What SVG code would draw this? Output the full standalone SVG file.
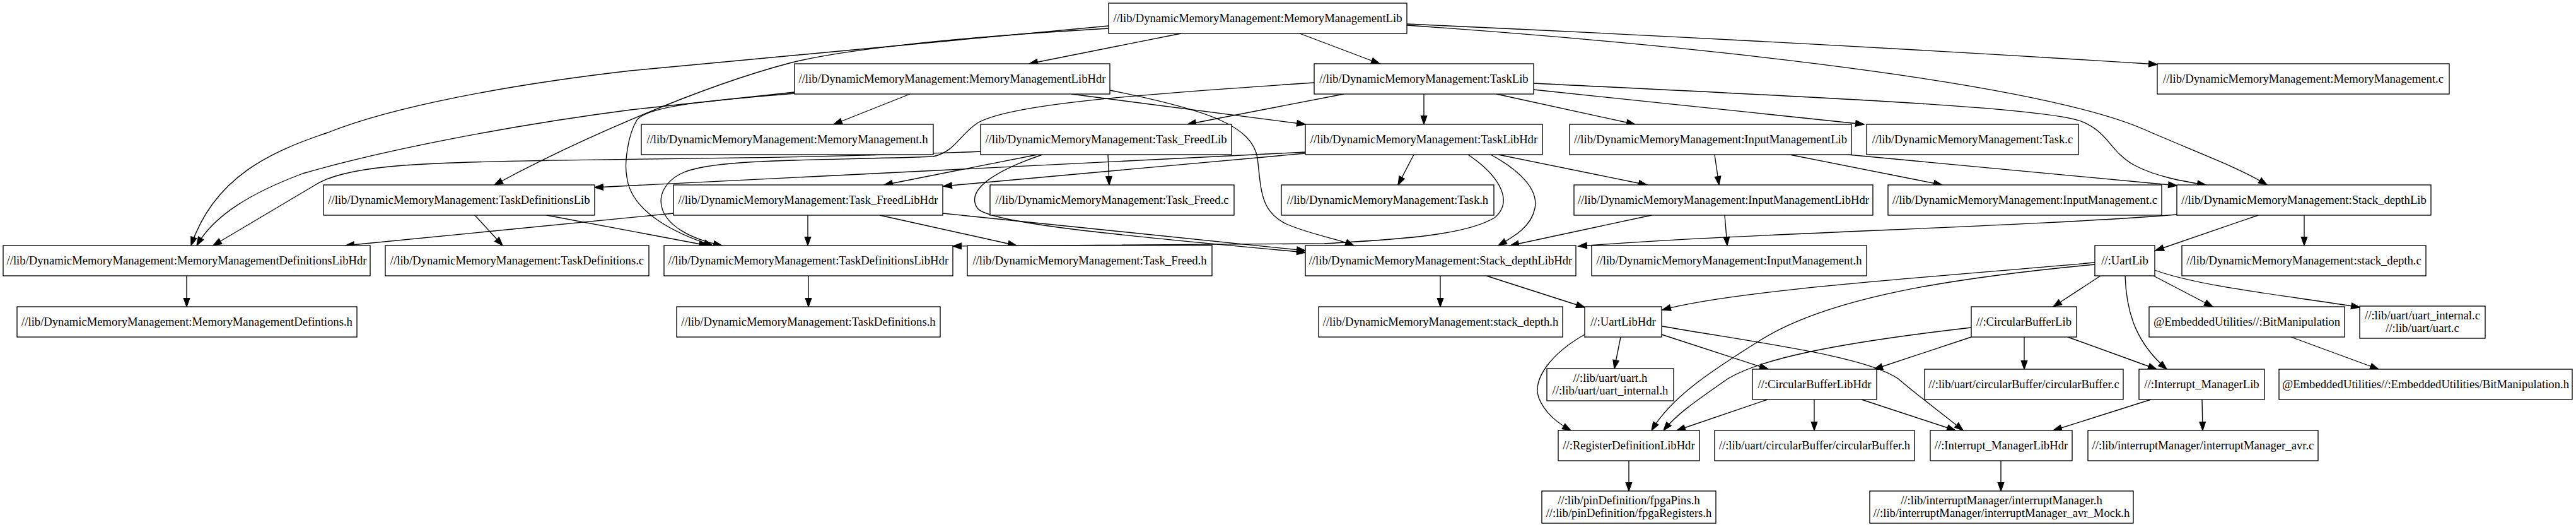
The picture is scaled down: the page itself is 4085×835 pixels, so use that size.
<svg xmlns="http://www.w3.org/2000/svg" width="4085" height="835" viewBox="0 0 4085 835">
<style>
.node rect{fill:#fff;stroke:#000;stroke-width:1.33}
.node text{font-family:"Liberation Serif","Times New Roman",serif;font-size:18.67px;text-anchor:middle;fill:#000}
.edges path{fill:none;stroke:#000;stroke-width:1.33;marker-end:url(#ah)}
</style>
<defs>
<marker id="ah" markerUnits="userSpaceOnUse" markerWidth="14" markerHeight="10" refX="13.3" refY="4.67" orient="auto" overflow="visible"><path d="M0,0 L13.3,4.67 L0,9.33 z" fill="#000" stroke="#000" stroke-width="1.33"/></marker>
</defs>
<rect x="0" y="0" width="4085" height="835" fill="#fff"/>
<g id="edges" class="edges">
<path d="M1873,53 L1632,101"/>
<path d="M2061,53 L2188,101"/>
<path d="M2231,38 C2700,59 3150,85 3421,102"/>
<path d="M2231,40 C2800,80 3250,140 3400,205 C3480,240 3550,265 3595,293"/>
<path d="M1758,45 C1500,60 1330,80 1252,100 C1100,140 900,230 784,293"/>
<path d="M1758,41 L1000,112 C800,135 620,170 520,210 C430,240 340,280 303,389"/>
<path d="M1260,146 L1000,174 C800,200 600,240 480,275 C400,305 340,340 312,389"/>
<path d="M1443,149 L1322,197"/>
<path d="M1260,148 C1150,158 1030,165 1010,190 C995,215 990,260 994,280 C1000,335 1070,370 1130,389"/>
<path d="M1699,149 L2070,197"/>
<path d="M1760,143 C1920,175 1985,200 1994,250 C2000,300 1998,335 2040,355 C2080,372 2120,378 2147,389"/>
<path d="M2131,149 L1883,197"/>
<path d="M2084,131 C1800,150 1600,165 1550,195 C1520,215 1515,240 1480,248 C1300,255 1130,250 1080,275 C1030,300 1030,365 1145,389"/>
<path d="M2258,149 L2258,197"/>
<path d="M2373,149 L2593,197"/>
<path d="M2432,142 L2956,197"/>
<path d="M2432,132 C2900,155 3240,170 3300,192 C3345,210 3345,240 3385,262 C3420,280 3460,287 3498,293"/>
<path d="M1645,245 L1402,293"/>
<path d="M1757,245 L1759,293"/>
<path d="M1555,240 C1200,255 800,250 640,262 C560,268 520,280 500,293 L338,389"/>
<path d="M1653,245 C1580,270 1530,300 1550,330 C1570,355 1800,375 2070,400"/>
<path d="M2070,243 L1496,295"/>
<path d="M2070,241 L943,297"/>
<path d="M2242,245 L2217,293"/>
<path d="M2376,245 L2612,293"/>
<path d="M2364,245 C2410,270 2440,300 2434,330 C2428,360 2400,375 2376,389"/>
<path d="M2328,245 C2380,280 2400,320 2370,345 C2320,375 2200,380 2100,386 L1511,390"/>
<path d="M753,341 L797,389"/>
<path d="M867,341 L1122,389"/>
<path d="M296,437 L296,486"/>
<path d="M1282,437 L1282,486"/>
<path d="M1281,341 L1281,389"/>
<path d="M1395,341 L1612,389"/>
<path d="M1068,338 L548,389"/>
<path d="M1495,338 L2070,397"/>
<path d="M3452,340 C3200,360 2800,368 2503,390"/>
<path d="M2619,341 L2395,389"/>
<path d="M2719,245 L2726,293"/>
<path d="M2838,245 L3080,293"/>
<path d="M2930,245 L3452,294"/>
<path d="M2735,341 L2739,389"/>
<path d="M3654,341 L3654,389"/>
<path d="M3581,341 L3418,397"/>
<path d="M2284,437 L2284,486"/>
<path d="M2357,437 L2513,487"/>
<path d="M3322,416 C3050,440 2750,460 2636,491"/>
<path d="M3322,419 C3100,440 2900,470 2790,540 C2710,590 2650,630 2619,682"/>
<path d="M3331,437 L3256,486"/>
<path d="M3370,437 C3372,500 3390,545 3436,585"/>
<path d="M3415,437 L3509,486"/>
<path d="M3417,428 C3490,455 3640,470 3742,487"/>
<path d="M2513,530 C2460,560 2430,600 2440,630 C2450,655 2470,670 2491,682"/>
<path d="M2570,534 L2560,584"/>
<path d="M2635,530 L2804,585"/>
<path d="M2636,517 C2800,545 2960,565 3010,600 C3045,630 3080,655 3113,682"/>
<path d="M3126,519 C2900,545 2790,570 2740,600 C2690,635 2660,655 2638,682"/>
<path d="M3126,534 L2972,585"/>
<path d="M3210,534 L3210,585"/>
<path d="M3279,534 L3420,585"/>
<path d="M2803,633 L2659,682"/>
<path d="M2877,633 L2877,682"/>
<path d="M2952,633 L3101,682"/>
<path d="M3411,633 L3256,682"/>
<path d="M3492,633 L3493,682"/>
<path d="M3173,730 L3173,778"/>
<path d="M2583,730 L2583,778"/>
<path d="M3633,534 L3772,585"/>
</g>
<g id="n01" class="node"><rect x="1758" y="5" width="473" height="48"/><text x="1994.5" y="35">//lib/DynamicMemoryManagement:MemoryManagementLib</text></g>
<g id="n02" class="node"><rect x="1260" y="101" width="500" height="48"/><text x="1510" y="131">//lib/DynamicMemoryManagement:MemoryManagementLibHdr</text></g>
<g id="n03" class="node"><rect x="2084" y="101" width="348" height="48"/><text x="2258" y="131">//lib/DynamicMemoryManagement:TaskLib</text></g>
<g id="n04" class="node"><rect x="3421" y="101" width="463" height="48"/><text x="3652.5" y="131">//lib/DynamicMemoryManagement:MemoryManagement.c</text></g>
<g id="n05" class="node"><rect x="1017" y="197" width="463" height="48"/><text x="1248.5" y="227">//lib/DynamicMemoryManagement:MemoryManagement.h</text></g>
<g id="n06" class="node"><rect x="1555" y="197" width="398" height="48"/><text x="1754" y="227">//lib/DynamicMemoryManagement:Task_FreedLib</text></g>
<g id="n07" class="node"><rect x="2070" y="197" width="376" height="48"/><text x="2258" y="227">//lib/DynamicMemoryManagement:TaskLibHdr</text></g>
<g id="n08" class="node"><rect x="2489" y="197" width="447" height="48"/><text x="2712.5" y="227">//lib/DynamicMemoryManagement:InputManagementLib</text></g>
<g id="n09" class="node"><rect x="2960" y="197" width="336" height="48"/><text x="3128" y="227">//lib/DynamicMemoryManagement:Task.c</text></g>
<g id="n10" class="node"><rect x="513" y="293" width="430" height="48"/><text x="728" y="323">//lib/DynamicMemoryManagement:TaskDefinitionsLib</text></g>
<g id="n11" class="node"><rect x="1068" y="293" width="427" height="48"/><text x="1281.5" y="323">//lib/DynamicMemoryManagement:Task_FreedLibHdr</text></g>
<g id="n12" class="node"><rect x="1570" y="293" width="387" height="48"/><text x="1763.5" y="323">//lib/DynamicMemoryManagement:Task_Freed.c</text></g>
<g id="n13" class="node"><rect x="2032" y="293" width="337" height="48"/><text x="2200.5" y="323">//lib/DynamicMemoryManagement:Task.h</text></g>
<g id="n14" class="node"><rect x="2496" y="293" width="474" height="48"/><text x="2733" y="323">//lib/DynamicMemoryManagement:InputManagementLibHdr</text></g>
<g id="n15" class="node"><rect x="2994" y="293" width="434" height="48"/><text x="3211" y="323">//lib/DynamicMemoryManagement:InputManagement.c</text></g>
<g id="n16" class="node"><rect x="3452" y="293" width="403" height="48"/><text x="3653.5" y="323">//lib/DynamicMemoryManagement:Stack_depthLib</text></g>
<g id="n17" class="node"><rect x="5" y="389" width="582" height="48"/><text x="296" y="419">//lib/DynamicMemoryManagement:MemoryManagementDefinitionsLibHdr</text></g>
<g id="n18" class="node"><rect x="611" y="389" width="418" height="48"/><text x="820" y="419">//lib/DynamicMemoryManagement:TaskDefinitions.c</text></g>
<g id="n19" class="node"><rect x="1053" y="389" width="458" height="48"/><text x="1282" y="419">//lib/DynamicMemoryManagement:TaskDefinitionsLibHdr</text></g>
<g id="n20" class="node"><rect x="1534" y="389" width="388" height="48"/><text x="1728" y="419">//lib/DynamicMemoryManagement:Task_Freed.h</text></g>
<g id="n21" class="node"><rect x="2070" y="389" width="429" height="48"/><text x="2284.5" y="419">//lib/DynamicMemoryManagement:Stack_depthLibHdr</text></g>
<g id="n22" class="node"><rect x="2524" y="389" width="436" height="48"/><text x="2742" y="419">//lib/DynamicMemoryManagement:InputManagement.h</text></g>
<g id="n23" class="node"><rect x="3322" y="389" width="95" height="48"/><text x="3369.5" y="419">//:UartLib</text></g>
<g id="n24" class="node"><rect x="3460" y="389" width="387" height="48"/><text x="3653.5" y="419">//lib/DynamicMemoryManagement:stack_depth.c</text></g>
<g id="n25" class="node"><rect x="27" y="486" width="539" height="48"/><text x="296.5" y="516">//lib/DynamicMemoryManagement:MemoryManagementDefintions.h</text></g>
<g id="n26" class="node"><rect x="1073" y="486" width="418" height="48"/><text x="1282" y="516">//lib/DynamicMemoryManagement:TaskDefinitions.h</text></g>
<g id="n27" class="node"><rect x="2091" y="486" width="387" height="48"/><text x="2284.5" y="516">//lib/DynamicMemoryManagement:stack_depth.h</text></g>
<g id="n28" class="node"><rect x="2513" y="486" width="122" height="48"/><text x="2574" y="516">//:UartLibHdr</text></g>
<g id="n29" class="node"><rect x="3126" y="486" width="167" height="48"/><text x="3209.5" y="516">//:CircularBufferLib</text></g>
<g id="n30" class="node"><rect x="3408" y="486" width="310" height="48"/><text x="3563" y="516">@EmbeddedUtilities//:BitManipulation</text></g>
<g id="n31" class="node"><rect x="3742" y="485" width="199" height="51"/><text x="3841.5" y="506">//:lib/uart/uart_internal.c</text><text x="3841.5" y="526">//:lib/uart/uart.c</text></g>
<g id="n32" class="node"><rect x="2453" y="584" width="201" height="51"/><text x="2553.5" y="605">//:lib/uart/uart.h</text><text x="2553.5" y="625">//:lib/uart/uart_internal.h</text></g>
<g id="n33" class="node"><rect x="2779" y="585" width="197" height="48"/><text x="2877.5" y="615">//:CircularBufferLibHdr</text></g>
<g id="n34" class="node"><rect x="3052" y="585" width="315" height="48"/><text x="3209.5" y="615">//:lib/uart/circularBuffer/circularBuffer.c</text></g>
<g id="n35" class="node"><rect x="3392" y="585" width="199" height="48"/><text x="3491.5" y="615">//:Interrupt_ManagerLib</text></g>
<g id="n36" class="node"><rect x="3614" y="585" width="465" height="48"/><text x="3846.5" y="615">@EmbeddedUtilities//:EmbeddedUtilities/BitManipulation.h</text></g>
<g id="n37" class="node"><rect x="2471" y="682" width="224" height="48"/><text x="2583" y="712">//:RegisterDefinitionLibHdr</text></g>
<g id="n38" class="node"><rect x="2719" y="682" width="317" height="48"/><text x="2877.5" y="712">//:lib/uart/circularBuffer/circularBuffer.h</text></g>
<g id="n39" class="node"><rect x="3061" y="682" width="225" height="48"/><text x="3173.5" y="712">//:Interrupt_ManagerLibHdr</text></g>
<g id="n40" class="node"><rect x="3311" y="682" width="365" height="48"/><text x="3493.5" y="712">//:lib/interruptManager/interruptManager_avr.c</text></g>
<g id="n41" class="node"><rect x="2445" y="778" width="276" height="51"/><text x="2583" y="799">//:lib/pinDefinition/fpgaPins.h</text><text x="2583" y="819">//:lib/pinDefinition/fpgaRegisters.h</text></g>
<g id="n42" class="node"><rect x="2965" y="778" width="418" height="51"/><text x="3174" y="799">//:lib/interruptManager/interruptManager.h</text><text x="3174" y="819">//:lib/interruptManager/interruptManager_avr_Mock.h</text></g>
</svg>
